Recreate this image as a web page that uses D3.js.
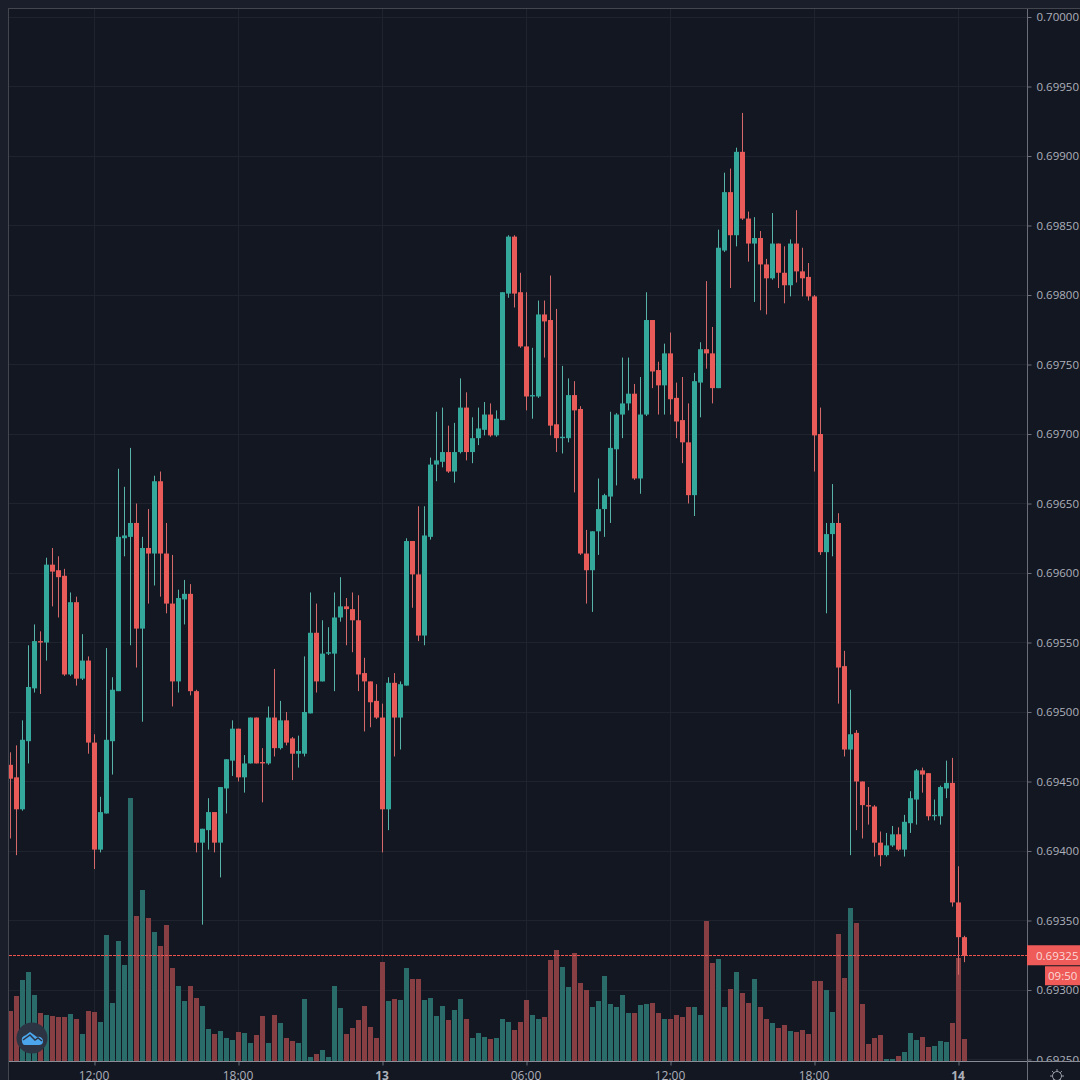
<!DOCTYPE html>
<html>
<head>
<meta charset="utf-8">
<script src="https://cdnjs.cloudflare.com/ajax/libs/d3/7.8.5/d3.min.js"></script>
<style>
    html, body { margin: 0; padding: 0; background: #1a1e2b; overflow: hidden; }
    svg { display: block; }
    text { font-family: "Open Sans", sans-serif; }
</style>
</head>
<body>
<svg id="chart" width="1080" height="1080"></svg>
<script>
// 15 minute candles, 12th 08:30 to 14th 00:15
let opens = [
    0.69462,0.69453,0.69430,0.69479,0.69517,0.69551,0.69550,0.69606,0.69602,0.69598,
    0.69527,0.69579,0.69524,0.69537,0.69478,0.69401,0.69427,0.69479,0.69515,0.69625,
    0.69626,0.69636,0.69560,0.69618,0.69614,0.69666,0.69614,0.69578,0.69522,0.69581,
    0.69585,0.69515,0.69406,0.69415,0.69428,0.69406,0.69445,0.69465,0.69488,0.69453,
    0.69463,0.69496,0.69464,0.69463,0.69496,0.69474,0.69494,0.69481,0.69470,0.69470,
    0.69499,0.69557,0.69522,0.69542,0.69542,0.69568,0.69576,0.69574,0.69566,0.69528,
    0.69522,0.69508,0.69496,0.69430,0.69521,0.69496,0.69519,0.69623,0.69599,0.69555,
    0.69626,0.69678,0.69680,0.69687,0.69673,0.69687,0.69719,0.69687,0.69697,0.69703,
    0.69714,0.69699,0.69710,0.69801,0.69842,0.69802,0.69763,0.69727,0.69727,0.69786,
    0.69782,0.69707,0.69697,0.69697,0.69728,0.69718,0.69614,0.69602,0.69630,0.69646,
    0.69655,0.69689,0.69714,0.69722,0.69729,0.69668,0.69714,0.69782,0.69746,0.69735,
    0.69758,0.69726,0.69710,0.69694,0.69656,0.69737,0.69761,0.69758,0.69733,0.69832,
    0.69874,0.69843,0.69903,0.69855,0.69837,0.69841,0.69822,0.69812,0.69837,0.69816,
    0.69807,0.69837,0.69817,0.69813,0.69799,0.69700,0.69615,0.69628,0.69636,0.69533,
    0.69473,0.69485,0.69450,0.69433,0.69432,0.69406,0.69397,0.69404,0.69412,0.69401,
    0.69420,0.69437,0.69458,0.69456,0.69425,0.69425,0.69445,0.69449,0.69363,0.69338
];
let closes = [
    0.69452,0.69430,0.69480,0.69518,0.69551,0.69550,0.69606,0.69601,0.69597,0.69527,
    0.69579,0.69524,0.69537,0.69478,0.69401,0.69428,0.69480,0.69516,0.69626,0.69627,
    0.69636,0.69560,0.69618,0.69614,0.69666,0.69614,0.69578,0.69522,0.69582,0.69585,
    0.69515,0.69406,0.69416,0.69428,0.69406,0.69446,0.69466,0.69488,0.69453,0.69463,
    0.69496,0.69463,0.69463,0.69496,0.69474,0.69494,0.69478,0.69470,0.69472,0.69500,
    0.69557,0.69522,0.69542,0.69543,0.69568,0.69576,0.69574,0.69566,0.69527,0.69522,
    0.69507,0.69496,0.69430,0.69521,0.69496,0.69520,0.69623,0.69599,0.69555,0.69627,
    0.69678,0.69681,0.69687,0.69673,0.69687,0.69719,0.69687,0.69697,0.69704,0.69714,
    0.69699,0.69711,0.69802,0.69842,0.69801,0.69763,0.69727,0.69728,0.69786,0.69781,
    0.69706,0.69697,0.69698,0.69728,0.69717,0.69614,0.69602,0.69630,0.69646,0.69656,
    0.69690,0.69714,0.69722,0.69729,0.69668,0.69714,0.69782,0.69745,0.69735,0.69758,
    0.69725,0.69709,0.69694,0.69656,0.69738,0.69761,0.69758,0.69733,0.69834,0.69874,
    0.69843,0.69903,0.69855,0.69837,0.69841,0.69822,0.69812,0.69837,0.69816,0.69807,
    0.69837,0.69817,0.69812,0.69799,0.69699,0.69615,0.69628,0.69636,0.69532,0.69473,
    0.69484,0.69450,0.69433,0.69432,0.69406,0.69397,0.69404,0.69412,0.69401,0.69421,
    0.69438,0.69458,0.69455,0.69425,0.69426,0.69446,0.69449,0.69363,0.69338,0.69325
];
let highs = [
    0.69471,0.69476,0.69494,0.69548,0.69563,0.69558,0.69611,0.69618,0.69612,0.69603,
    0.69586,0.69583,0.69556,0.69540,0.69484,0.69439,0.69546,0.69525,0.69675,0.69662,
    0.69690,0.69650,0.69626,0.69646,0.69670,0.69673,0.69636,0.69613,0.69588,0.69595,
    0.69592,0.69516,0.69416,0.69438,0.69428,0.69446,0.69466,0.69494,0.69488,0.69469,
    0.69496,0.69496,0.69474,0.69504,0.69531,0.69508,0.69500,0.69482,0.69483,0.69540,
    0.69586,0.69578,0.69566,0.69561,0.69586,0.69597,0.69582,0.69586,0.69584,0.69539,
    0.69522,0.69520,0.69506,0.69525,0.69528,0.69522,0.69625,0.69623,0.69648,0.69648,
    0.69683,0.69716,0.69719,0.69706,0.69708,0.69740,0.69730,0.69712,0.69719,0.69723,
    0.69722,0.69717,0.69802,0.69843,0.69843,0.69816,0.69802,0.69762,0.69796,0.69796,
    0.69814,0.69790,0.69749,0.69740,0.69738,0.69720,0.69631,0.69630,0.69668,0.69657,
    0.69716,0.69715,0.69755,0.69755,0.69736,0.69741,0.69802,0.69782,0.69752,0.69765,
    0.69773,0.69737,0.69741,0.69722,0.69744,0.69766,0.69810,0.69777,0.69847,0.69888,
    0.69891,0.69906,0.69931,0.69860,0.69856,0.69846,0.69826,0.69859,0.69837,0.69835,
    0.69840,0.69861,0.69834,0.69823,0.69800,0.69719,0.69636,0.69664,0.69643,0.69544,
    0.69516,0.69487,0.69450,0.69446,0.69433,0.69414,0.69413,0.69418,0.69417,0.69426,
    0.69443,0.69459,0.69460,0.69456,0.69437,0.69447,0.69465,0.69467,0.69389,0.69339
];
let lows = [
    0.69409,0.69397,0.69429,0.69463,0.69514,0.69513,0.69537,0.69576,0.69568,0.69526,
    0.69526,0.69519,0.69523,0.69470,0.69387,0.69399,0.69427,0.69455,0.69515,0.69612,
    0.69548,0.69532,0.69493,0.69578,0.69591,0.69583,0.69571,0.69504,0.69514,0.69563,
    0.69512,0.69399,0.69347,0.69401,0.69399,0.69381,0.69427,0.69454,0.69450,0.69442,
    0.69463,0.69463,0.69435,0.69462,0.69468,0.69473,0.69476,0.69451,0.69460,0.69468,
    0.69499,0.69514,0.69522,0.69541,0.69515,0.69565,0.69548,0.69543,0.69515,0.69486,
    0.69489,0.69495,0.69399,0.69415,0.69468,0.69473,0.69519,0.69575,0.69551,0.69548,
    0.69624,0.69666,0.69676,0.69672,0.69665,0.69686,0.69681,0.69679,0.69692,0.69699,
    0.69698,0.69698,0.69710,0.69798,0.69791,0.69762,0.69717,0.69711,0.69726,0.69755,
    0.69699,0.69687,0.69686,0.69694,0.69658,0.69613,0.69578,0.69572,0.69613,0.69626,
    0.69636,0.69663,0.69697,0.69717,0.69667,0.69657,0.69713,0.69733,0.69714,0.69714,
    0.69714,0.69697,0.69679,0.69650,0.69641,0.69712,0.69747,0.69722,0.69733,0.69831,
    0.69805,0.69835,0.69854,0.69824,0.69795,0.69789,0.69786,0.69811,0.69805,0.69794,
    0.69799,0.69809,0.69799,0.69796,0.69673,0.69613,0.69571,0.69612,0.69506,0.69468,
    0.69397,0.69415,0.69409,0.69419,0.69396,0.69389,0.69396,0.69403,0.69400,0.69396,
    0.69413,0.69419,0.69442,0.69422,0.69422,0.69419,0.69438,0.69360,0.69311,0.69320
];
let volumes = [
    50,65,81,89,66,48,46,45,44,44,
    47,42,27,50,49,39,126,58,120,96,
    263,145,171,143,129,115,136,93,75,60,
    75,63,55,32,27,30,23,21,29,28,
    18,26,45,18,46,38,23,20,18,62,
    4,7,11,4,75,53,27,33,41,55,
    34,23,99,60,62,61,93,82,82,61,
    63,45,55,41,51,62,42,23,28,24,
    22,23,42,39,31,39,61,46,42,44,
    101,111,94,74,108,78,71,54,60,85,
    57,54,66,48,48,56,57,58,48,42,
    42,46,44,54,54,46,140,98,102,54,
    72,89,68,58,82,54,42,38,33,36,
    30,29,31,27,80,80,71,49,127,83,
    153,138,57,17,23,26,2,2,5,9,
    28,21,24,14,15,20,19,38,103,22
];
let priceTicks = [0.70000,0.69950,0.69900,0.69850,0.69800,0.69750,0.69700,0.69650,0.69600,0.69550,0.69500,0.69450,0.69400,0.69350,0.69300,0.69250];
let timeTickBars = [14,38,62,86,110,134,158];
let timeTickLabels = ["12:00","18:00","13","06:00","12:00","18:00","14"];
let boldTimeLabels = ["13","14"];
let lastPrice = 0.69325;
let countdown = "09:50";

let upColor = "#33a89b";
let downColor = "#e85b59";
let upWick = "#58b3a9";
let downWick = "#d5696a";
let upVolume = "#2a6c6a";
let downVolume = "#873f43";
let gridColor = "#1f232e";
let axisColor = "#6b6e79";
let labelColor = "#adb0ba";

let svg = d3.select("#chart");
let margin = { top: 9, right: 1027, bottom: 1061, left: 9 };

let x = d3.scaleLinear().domain([0, 159]).range([10.5, 964.5]);
let y = d3.scaleLinear().domain([0.6925, 0.7]).range([1059.5, 17]);
let yVol = d3.scaleLinear().domain([0, 263]).range([1061, 798]);

let bars = d3.range(opens.length);
let isUp = i => closes[i] >= opens[i];
let barWidth = 5;

svg.append("rect").attr("width", 1080).attr("height", 1080).attr("fill", "#1a1e2b");
svg.append("rect")
    .attr("x", 8.5).attr("y", 8.5)
    .attr("width", 1080).attr("height", 1080)
    .attr("fill", "#131722")
    .attr("stroke", "#43464f");

let defs = svg.append("defs");
defs.append("clipPath").attr("id", "pane").append("rect")
    .attr("x", margin.left).attr("y", margin.top)
    .attr("width", margin.right - margin.left).attr("height", margin.bottom - margin.top);
defs.append("clipPath").attr("id", "priceScale").append("rect")
    .attr("x", -1).attr("y", margin.top)
    .attr("width", 60).attr("height", margin.bottom - margin.top);

let pane = svg.append("g").attr("clip-path", "url(#pane)");

// grid
pane.append("g").selectAll("line").data(priceTicks).join("line")
    .attr("x1", margin.left).attr("x2", margin.right)
    .attr("y1", d => Math.floor(y(d)) + 0.5).attr("y2", d => Math.floor(y(d)) + 0.5)
    .attr("stroke", gridColor);
pane.append("g").selectAll("line").data(timeTickBars).join("line")
    .attr("x1", d => x(d)).attr("x2", d => x(d))
    .attr("y1", margin.top).attr("y2", margin.bottom)
    .attr("stroke", gridColor);

// volume
pane.append("g").selectAll("rect").data(bars).join("rect")
    .attr("x", i => x(i) - barWidth / 2)
    .attr("y", i => yVol(volumes[i]))
    .attr("width", barWidth)
    .attr("height", i => yVol(0) - yVol(volumes[i]))
    .attr("fill", i => isUp(i) ? upVolume : downVolume);

// wicks
pane.append("g").selectAll("line").data(bars).join("line")
    .attr("x1", i => x(i)).attr("x2", i => x(i))
    .attr("y1", i => y(highs[i])).attr("y2", i => y(lows[i]))
    .attr("stroke", i => isUp(i) ? upWick : downWick)
    .attr("stroke-width", 1);

// bodies
pane.append("g").selectAll("rect").data(bars).join("rect")
    .attr("x", i => x(i) - barWidth / 2)
    .attr("y", i => y(Math.max(opens[i], closes[i])))
    .attr("width", barWidth)
    .attr("height", i => Math.max(1, Math.abs(y(opens[i]) - y(closes[i]))))
    .attr("fill", i => isUp(i) ? upColor : downColor);

// last price line
pane.append("line")
    .attr("x1", margin.left).attr("x2", margin.right)
    .attr("y1", Math.floor(y(lastPrice)) + 0.5).attr("y2", Math.floor(y(lastPrice)) + 0.5)
    .attr("stroke", "#ef5350")
    .attr("stroke-dasharray", "3 1");

// time axis line and ticks
let xAxis = d3.axisBottom(x)
    .tickValues(timeTickBars)
    .tickSize(4)
    .tickPadding(6)
    .tickFormat((d, i) => timeTickLabels[i]);
let xAxisG = svg.append("g")
    .attr("transform", "translate(0," + margin.bottom + ".5)")
    .call(xAxis);
xAxisG.select(".domain").remove();
xAxisG.selectAll("line").attr("stroke", axisColor);
xAxisG.selectAll("text")
    .attr("dx", -1)
    .attr("fill", labelColor)
    .attr("font-size", 12)
    .attr("font-family", "Open Sans")
    .attr("font-weight", d => boldTimeLabels.includes(timeTickLabels[timeTickBars.indexOf(d)]) ? 700 : 400);
svg.append("line")
    .attr("x1", margin.left).attr("x2", 1080)
    .attr("y1", margin.bottom + 0.5).attr("y2", margin.bottom + 0.5)
    .attr("stroke", "#8a8d96");

// price axis
let yAxis = d3.axisRight(y)
    .tickValues(priceTicks)
    .tickSize(4)
    .tickPadding(5)
    .tickFormat(d3.format(".5f"));
let yAxisG = svg.append("g")
    .attr("transform", "translate(" + margin.right + ".5,0)")
    .attr("clip-path", "url(#priceScale)");
yAxisG.call(yAxis);
yAxisG.select(".domain").remove();
yAxisG.selectAll("line").attr("stroke", axisColor);
yAxisG.selectAll("text")
    .attr("dy", "0.34em")
    .attr("fill", labelColor)
    .attr("font-size", 11.5)
    .attr("font-family", "Open Sans");
svg.append("line")
    .attr("x1", margin.right + 0.5).attr("x2", margin.right + 0.5)
    .attr("y1", margin.top).attr("y2", 1080)
    .attr("stroke", axisColor);

// last price and countdown labels
svg.append("rect")
    .attr("x", margin.right).attr("y", y(lastPrice) - 10)
    .attr("width", 1080 - margin.right).attr("height", 20)
    .attr("fill", "#ee5b58");
svg.append("text")
    .attr("x", 1036).attr("y", y(lastPrice) + 4.5)
    .attr("fill", "#fbd9d7").attr("font-size", 11.5)
    .text(d3.format(".5f")(lastPrice));
svg.append("rect")
    .attr("x", 1045).attr("y", y(lastPrice) + 11)
    .attr("width", 35).attr("height", 19)
    .attr("fill", "#ee5b58");
svg.append("text")
    .attr("x", 1048).attr("y", y(lastPrice) + 24.5)
    .attr("fill", "#fbd9d7").attr("font-size", 11.5)
    .text(countdown);

// settings gear
let gear = svg.append("g").attr("transform", "translate(1057,1076)");
gear.append("circle").attr("r", 4.5).attr("fill", "none").attr("stroke", "#9a9da6");
gear.selectAll("line").data(d3.range(8)).join("line")
    .attr("x1", d => 4.5 * Math.cos(d * Math.PI / 4)).attr("y1", d => 4.5 * Math.sin(d * Math.PI / 4))
    .attr("x2", d => 7 * Math.cos(d * Math.PI / 4)).attr("y2", d => 7 * Math.sin(d * Math.PI / 4))
    .attr("stroke", "#9a9da6");

// logo
let logo = svg.append("g").attr("transform", "translate(32,1038)");
logo.append("circle").attr("r", 15.5).attr("fill", "#2c3342");
logo.append("path")
    .attr("d", "M-10,3 C-11,-1 -8,-2 -6,-3 L-2,-6 L5,-1 C8,-2 11,0 11,3 C11,6 9,7 7,7 L-7,7 C-9,7 -10,5 -10,3 Z")
    .attr("fill", "#4ba6ee");
logo.append("path")
    .attr("d", "M-9,2 L-2,-3 L3,2 L6,0 L10,3")
    .attr("fill", "none")
    .attr("stroke", "#2c3342")
    .attr("stroke-width", 1.5);
</script>
</body>
</html>
